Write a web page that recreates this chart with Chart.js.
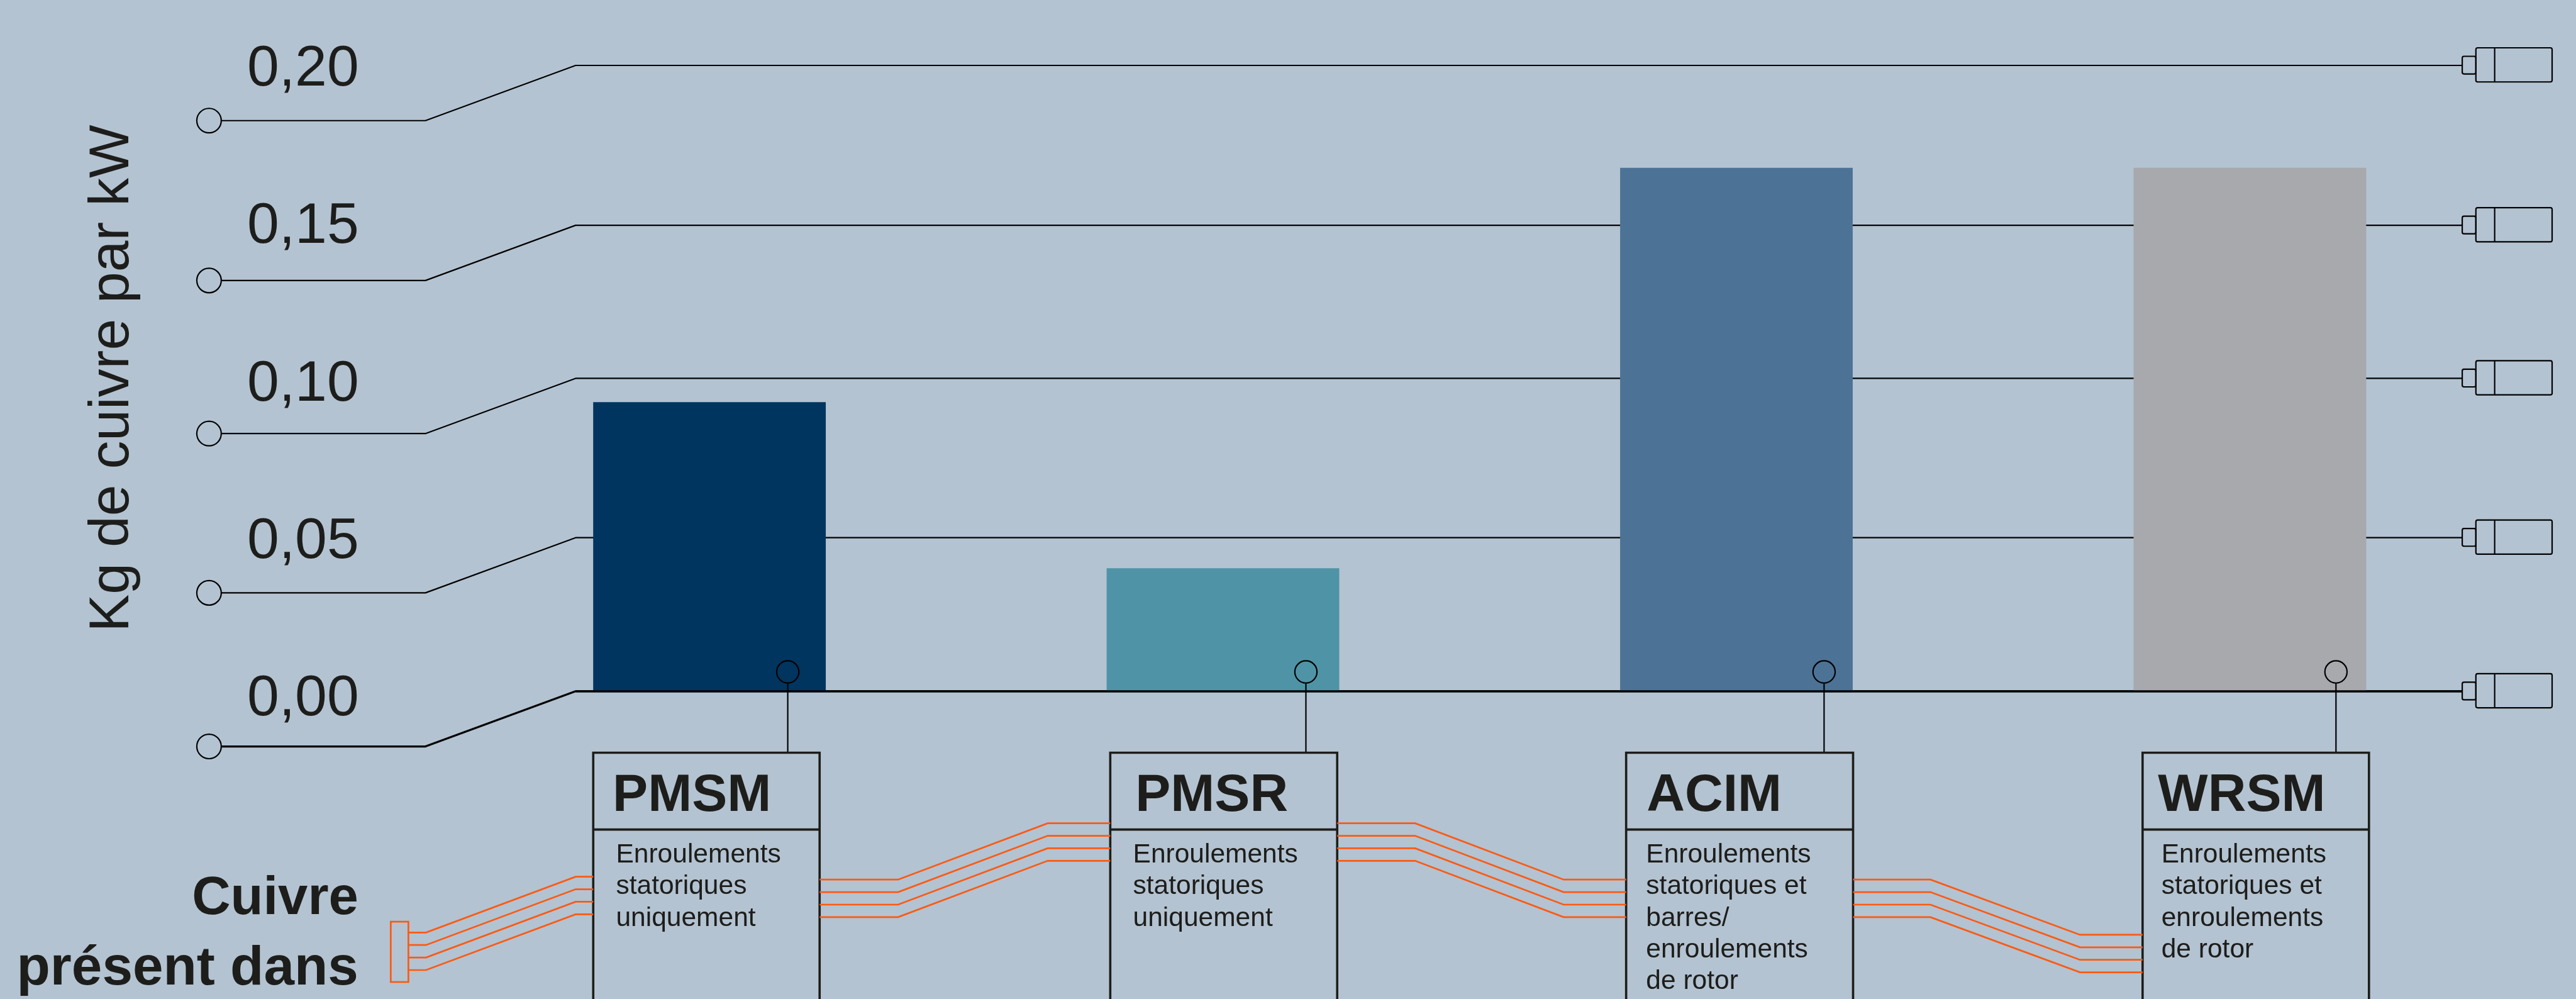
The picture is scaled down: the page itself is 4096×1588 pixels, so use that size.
<!DOCTYPE html>
<html lang="fr">
<head>
<meta charset="utf-8">
<title>Kg de cuivre par kW</title>
<style>
    html, body { margin: 0; padding: 0; background: #b3c3d1; overflow: hidden; }
    canvas { display: block; }
</style>
<script src="https://cdn.jsdelivr.net/npm/chart.js@4/dist/chart.umd.min.js"></script>
</head>
<body>
<canvas id="chart" width="4096" height="1588"></canvas>
<script>
"use strict";

// data
const categories = ["PMSM", "PMSR", "ACIM", "WRSM"];
const copperPerKw = [0.0924, 0.0393, 0.1673, 0.1673];
const tickValues = [0, 0.05, 0.1, 0.15, 0.2];
const axisTitle = "Kg de cuivre par kW";
const copperTitle = ["Cuivre", "présent dans"];
const copperNotes = [
    ["Enroulements", "statoriques", "uniquement"],
    ["Enroulements", "statoriques", "uniquement"],
    ["Enroulements", "statoriques et", "barres/", "enroulements", "de rotor"],
    ["Enroulements", "statoriques et", "enroulements", "de rotor"]
];

// colours
const INK = "#1d1d1b";
const WIRE = "#000000";
const ORANGE = "#fb5a12";
const barColors = ["#00355f", "#4f94a6", "#4c7395", "#a7a9ac"];

// layout, all in reference pixels, S brings them down to the window
const S = 4096 / 4529;
const FONT = "'Liberation Sans', Arimo, sans-serif";
const wireNudge = [0, 5, 0, 6, 0]; // the drawn wires are not quite evenly spaced
// left, right, stem, heading x, note x
const boxes = [
    [1043, 1441, 1385, 1077, 1083],
    [1952, 2351, 2296, 1996, 1992],
    [2859, 3258, 3207, 2895, 2894],
    [3767, 4165, 4107, 3794, 3800]
];

const diagram = {
    id: "diagram",
    beforeDatasetsDraw(chart) {
        const ctx = chart.ctx;
        const y = chart.scales.y;
        ctx.save();
        ctx.scale(S, S);
        ctx.lineJoin = "round";
        tickValues.forEach(function(v, i) {
            let py = y.getPixelForValue(v) / S + wireNudge[i];
            ctx.strokeStyle = WIRE;
            ctx.lineWidth = v === 0 ? 3.5 : 2.4;
            ctx.beginPath();
            ctx.moveTo(389, py + 97);
            ctx.lineTo(748, py + 97);
            ctx.lineTo(1012, py);
            ctx.lineTo(4329, py);
            ctx.stroke();
            ctx.lineWidth = 2.4;
            ctx.beginPath();
            ctx.arc(367.5, py + 97, 21.5, 0, 2 * Math.PI);
            ctx.stroke();
            motor(ctx, py);
        });
        ctx.restore();
    },
    afterDatasetsDraw(chart) {
        const ctx = chart.ctx;
        const base = chart.scales.y.getPixelForValue(0) / S;
        ctx.save();
        ctx.scale(S, S);
        ctx.strokeStyle = WIRE;
        ctx.lineWidth = 3.5;
        ctx.beginPath();
        ctx.moveTo(1012, base);
        ctx.lineTo(4329, base);
        ctx.stroke();
        boxes.forEach(function(b, i) {
            ctx.strokeStyle = WIRE;
            ctx.lineWidth = 2.4;
            ctx.beginPath();
            ctx.arc(b[2], 1181, 19.5, 0, 2 * Math.PI);
            ctx.moveTo(b[2], 1200.5);
            ctx.lineTo(b[2], 1323);
            ctx.stroke();
            ctx.strokeStyle = INK;
            ctx.lineWidth = 4;
            ctx.beginPath();
            ctx.moveTo(b[0], 1760);
            ctx.lineTo(b[0], 1323);
            ctx.lineTo(b[1], 1323);
            ctx.lineTo(b[1], 1760);
            ctx.moveTo(b[0], 1458);
            ctx.lineTo(b[1], 1458);
            ctx.stroke();
            ctx.fillStyle = INK;
            ctx.textAlign = "left";
            ctx.textBaseline = "alphabetic";
            ctx.font = "bold 93px " + FONT;
            ctx.fillText(categories[i], b[3], 1425);
            ctx.font = "47px " + FONT;
            copperNotes[i].forEach(function(line, n) {
                ctx.fillText(line, b[4], 1516 + n * 55.6);
            });
        });
        ctx.textAlign = "right";
        ctx.font = "bold 94px " + FONT;
        ctx.fillText(copperTitle[0], 630, 1607);
        ctx.font = "bold 96.5px " + FONT;
        ctx.fillText(copperTitle[1], 630, 1730);

        // the four copper strands running through the boxes
        ctx.strokeStyle = ORANGE;
        ctx.lineWidth = 3;
        ctx.strokeRect(687, 1620, 31, 106);
        strands(ctx, 718, 749, 1012, 1043, 1639, 1541);
        strands(ctx, 1441, 1579, 1842, 1952, 1546, 1447);
        strands(ctx, 2351, 2488, 2749, 2859, 1447, 1546);
        strands(ctx, 3258, 3394, 3657, 3767, 1546, 1643);
        ctx.restore();
    }
};

function strands(ctx, x0, x1, x2, x3, y0, y1) {
    for (let n = 0; n < 4; n++) {
        ctx.beginPath();
        ctx.moveTo(x0, y0 + n * 22);
        ctx.lineTo(x1, y0 + n * 22);
        ctx.lineTo(x2, y1 + n * 22);
        ctx.lineTo(x3, y1 + n * 22);
        ctx.stroke();
    }
}

function motor(ctx, py) {
    ctx.lineWidth = 2.4;
    ctx.beginPath();
    ctx.roundRect(4329, py - 16, 24, 31, 3);
    ctx.stroke();
    ctx.beginPath();
    ctx.roundRect(4353, py - 31, 134, 60, 3);
    ctx.moveTo(4386, py - 31);
    ctx.lineTo(4386, py + 29);
    ctx.stroke();
}

new Chart(document.getElementById("chart"), {
    type: "bar",
    data: {
        labels: categories,
        datasets: [ {
            data: copperPerKw,
            backgroundColor: barColors,
            borderWidth: 0,
            categoryPercentage: 1,
            barPercentage: 0.453
        } ]
    },
    plugins: [ diagram ],
    options: {
        responsive: false,
        animation: false,
        layout: {
            padding: {
                top: 115 * S,
                bottom: 1588 - 1215 * S,
                right: 4096 - 4407 * S
            }
        },
        plugins: {
            legend: { display: false },
            tooltip: { enabled: false }
        },
        scales: {
            x: { display: false },
            y: {
                display: false,
                min: 0,
                max: 0.2
            },
            // labels sit a little below their wires, so they get their own axis
            yLabels: {
                type: "linear",
                position: "left",
                min: 0.00263,
                max: 0.20136,
                afterBuildTicks(axis) {
                    axis.ticks = tickValues.map(function(v) {
                        return { value: v };
                    });
                },
                afterFit(axis) {
                    axis.width = 796 * S;
                    axis.paddingTop = 0;
                    axis.paddingBottom = 0;
                },
                border: { display: false },
                grid: { display: false, drawTicks: false },
                ticks: {
                    padding: 165 * S,
                    color: INK,
                    font: { family: FONT, size: 101 * S },
                    callback: function(v) {
                        return v.toFixed(2).replace(".", ",");
                    }
                },
                title: {
                    display: true,
                    text: axisTitle,
                    color: INK,
                    font: { family: FONT, size: 99 * S, lineHeight: 1.2 },
                    padding: { top: 126, bottom: 0 }
                }
            }
        }
    }
});
</script>
</body>
</html>
